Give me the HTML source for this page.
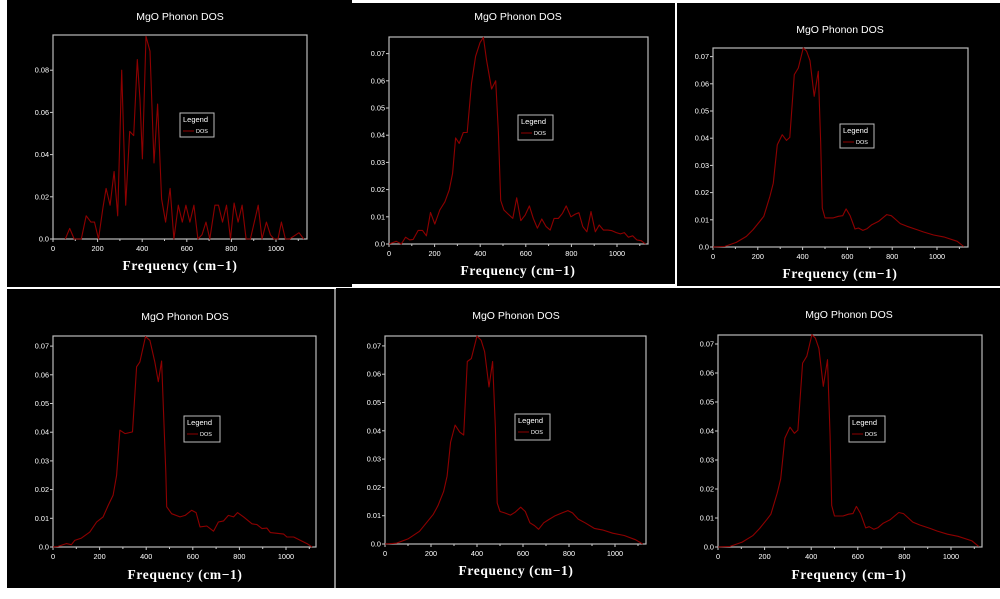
<!DOCTYPE html>
<html><head><meta charset="utf-8"><style>
html,body{margin:0;padding:0;background:#fff;width:1000px;height:599px;overflow:hidden}
svg{display:block}
</style></head><body>
<svg id="fig" width="1000" height="599" xmlns="http://www.w3.org/2000/svg">
<rect x="0" y="0" width="1000" height="599" fill="#fff"/>
<rect x="7" y="0" width="345" height="287" fill="#000"/>
<rect x="352" y="3" width="323" height="281" fill="#000"/>
<rect x="677" y="3" width="323" height="283" fill="#000"/>
<rect x="7" y="289" width="327" height="299" fill="#000"/>
<rect x="336" y="288" width="342" height="300" fill="#000"/>
<rect x="678" y="288" width="322" height="300" fill="#000"/>
<rect x="334" y="289" width="2" height="299" fill="#888"/>
</svg>
<script>
// ---- data (frequency cm-1, DOS) ----
const f1=[55,75,95,127,149,170,186,204,224,238,256,274,290,308,326,344,362,378,390,401,417,435,453,469,487,505,525,542,562,580,596,614,632,650,668,686,703,726,742,760,778,796,812,830,848,866,885,920,937,957,975,991,1009,1024,1042,1061,1103,1124];
const d1=[0,.005,0,0,.011,.008,.008,0,.015,.024,.016,.032,.011,.080,.016,.051,.049,.085,.066,.038,.096,.089,.036,.064,.019,.008,.024,0,.016,.008,.016,.008,.016,0,.002,.008,0,.016,.016,.008,.016,0,.017,.008,.016,0,0,.016,0,.008,.002,0,0,.008,0,0,.003,0];
const f2=[0,32,54,73,91,106,128,147,164,182,201,223,245,264,279,292,308,326,343,362,380,399,414,428,450,468,480,490,504,523,543,560,578,597,616,633,651,670,689,707,724,743,761,777,798,817,833,850,868,886,905,922,941,960,978,997,1015,1032,1050,1069,1087,1106,1125];
const d2=[0,.001,0,.0025,.0015,.0017,.005,.005,.003,.0116,.0073,.0125,.0155,.0198,.026,.039,.037,.041,.041,.059,.069,.074,.076,.0675,.057,.060,.041,.016,.0125,.011,.0094,.017,.0086,.0106,.014,.0094,.0058,.0092,.0064,.0051,.0094,.0094,.0113,.014,.010,.011,.0115,.0064,.0045,.0119,.0045,.007,.0051,.0051,.0049,.0042,.0037,.0042,.0025,.003,.0015,.0012,0];
const f3=[0,52,104,149,179,209,227,254,269,287,309,328,343,363,381,403,418,433,452,470,481,488,500,537,560,579,594,612,634,649,669,687,709,739,776,796,813,836,866,910,940,985,1030,1090,1119];
const d3=[0,.0002,.0017,.0039,.0064,.0094,.0113,.0186,.0235,.0376,.0413,.0392,.0403,.0634,.0658,.0732,.072,.0685,.0554,.0646,.0382,.0143,.0107,.0107,.0113,.0115,.014,.0115,.0066,.007,.0061,.0067,.0082,.0094,.0119,.0115,.0103,.0086,.0076,.0064,.0055,.0044,.0037,.0021,.0002];
const f4=[0,22,57,79,93,122,158,187,215,237,258,273,287,309,341,359,373,397,416,437,452,466,484,488,509,545,567,595,614,631,660,689,710,732,753,775,792,818,854,875,897,918,933,990,1004,1033,1062,1090,1112];
const d4=[0,.0002,.0012,.0008,.0023,.0031,.0052,.0087,.0105,.0145,.018,.025,.0407,.0395,.0401,.0628,.0645,.0733,.072,.0645,.0576,.0648,.0262,.014,.0116,.0105,.011,.0128,.012,.007,.0073,.0055,.0087,.0091,.011,.0105,.012,.0105,.0081,.0078,.0064,.0066,.005,.0045,.0035,.0035,.0023,.0012,0];
const f5=[0,50,100,150,180,210,230,255,270,285,305,325,342,358,375,400,418,433,452,468,480,488,500,520,545,565,590,610,630,650,668,690,710,740,770,795,815,840,870,910,945,990,1040,1090,1120];
const d5=[0,.0003,.0018,.0045,.0075,.0105,.0135,.0185,.024,.036,.042,.0395,.0385,.0645,.0655,.0735,.072,.068,.0555,.0645,.041,.0145,.0115,.011,.0102,.0112,.013,.0115,.0075,.0065,.0052,.0075,.0085,.01,.011,.0118,.011,.0088,.0075,.0055,.005,.0038,.003,.0015,0];
const xTicks=[0,200,400,600,800,1000];
const yTicksA=[0,.02,.04,.06,.08];
const yTickLabelsA=["0.0","0.02","0.04","0.06","0.08"];
const yTicksB=[0,.01,.02,.03,.04,.05,.06,.07];
const yTickLabelsB=["0.0","0.01","0.02","0.03","0.04","0.05","0.06","0.07"];

const NS="http://www.w3.org/2000/svg";
const svg=document.getElementById('fig');
function mk(tag,attrs,parent){const e=document.createElementNS(NS,tag);for(const k in attrs)e.setAttribute(k,attrs[k]);(parent||svg).appendChild(e);return e;}

const panels=[
 {id:1,bx0:53,bx1:307,by0:35,by1:239,x0:53,x1000:276,y0:239,yper:21.1,tc:180,ty:16,xly:270,lg:[180,113,34,24],f:f1,d:d1,yt:yTicksA,yl:yTickLabelsA},
 {id:2,bx0:389,bx1:648,by0:37,by1:244,x0:389,x1000:617,y0:244,yper:27.2,tc:518,ty:16,xly:275,lg:[518,115,35,25],f:f2,d:d2,yt:yTicksB,yl:yTickLabelsB},
 {id:3,bx0:713,bx1:968,by0:48,by1:247,x0:713,x1000:937,y0:247,yper:27.2,tc:840,ty:29,xly:278,lg:[840,124,34,24],f:f3,d:d3,yt:yTicksB,yl:yTickLabelsB},
 {id:4,bx0:53,bx1:316,by0:336,by1:547,x0:53,x1000:286,y0:547,yper:28.7,tc:185,ty:316,xly:579,lg:[184,416,36,26],f:f4,d:d4,yt:yTicksB,yl:yTickLabelsB},
 {id:5,bx0:385,bx1:646,by0:336,by1:544,x0:385,x1000:615,y0:544,yper:28.3,tc:516,ty:315,xly:575,lg:[515,414,35,26],f:f5,d:d5,yt:yTicksB,yl:yTickLabelsB},
 {id:6,bx0:718,bx1:982,by0:335,by1:547,x0:718,x1000:951,y0:547,yper:29,tc:849,ty:314,xly:579,lg:[849,416,36,26],f:f3,d:d3,yt:yTicksB,yl:yTickLabelsB}
];

panels.forEach(p=>{
 const g=mk('g',{});
 
 
 const xs=v=>p.x0+(p.x1000-p.x0)*v/1000;
 const ys=v=>p.y0-p.yper*v*100;
 const t=mk('text',{x:p.tc,y:p.ty+4,fill:'#fff','font-family':'Liberation Sans, sans-serif','font-size':'10.5','text-anchor':'middle'},g);
 t.textContent='MgO Phonon DOS';
 
 
 xTicks.forEach(v=>{
  const x=xs(v);
  mk('line',{x1:x,y1:p.by1,x2:x,y2:p.by1+3,stroke:'#ccc','stroke-width':1},g);
  mk('line',{x1:xs(v+100),y1:p.by1,x2:xs(v+100),y2:p.by1+2,stroke:'#ccc','stroke-width':1},g);
  const l=mk('text',{x:x,y:p.by1+12,fill:'#fff','font-family':'Liberation Sans, sans-serif','font-size':'7.3','text-anchor':'middle'},g);
  l.textContent=String(v);
  
  
 });
 p.yt.forEach((v,i)=>{
  const y=ys(v);
  mk('line',{x1:p.bx0-3,y1:y,x2:p.bx0,y2:y,stroke:'#ccc','stroke-width':1},g);
  const l=mk('text',{x:p.bx0-4,y:y+2.5,fill:'#fff','font-family':'Liberation Sans, sans-serif','font-size':'7.3','text-anchor':'end'},g);
  l.textContent=p.yl[i];
  
  
 });
 const fr=mk('rect',{x:p.bx0,y:p.by0,width:p.bx1-p.bx0,height:p.by1-p.by0,fill:'none',stroke:'#bbb','stroke-width':1.2},g);
 
 
 const pts=p.f.map((fv,i)=>xs(fv).toFixed(1)+','+ys(p.d[i]).toFixed(1)).join(' ');
 const ln=mk('polyline',{points:pts,fill:'none',stroke:'#8e0000','stroke-width':1.1,'stroke-linejoin':'round'},g);
 
 
 const xl=mk('text',{x:p.tc,y:p.xly,fill:'#fff','font-family':'Liberation Serif, serif','font-size':'13.5','font-weight':'bold','text-anchor':'middle','letter-spacing':'0.6'},g);
 xl.textContent='Frequency (cm\u22121)';
 
 
 const [lx,ly,lw,lh]=p.lg;
 const lg=mk('g',{},g);
 
 
 mk('rect',{x:lx,y:ly,width:lw,height:lh,fill:'#000',stroke:'#bbb','stroke-width':1},lg);
 const lt=mk('text',{x:lx+3,y:ly+9,fill:'#fff','font-family':'Liberation Sans, sans-serif','font-size':'7.5'},lg);
 lt.textContent='Legend';
 mk('line',{x1:lx+3,y1:ly+18,x2:lx+14,y2:ly+18,stroke:'#8e0000','stroke-width':1},lg);
 const le=mk('text',{x:lx+16,y:ly+20,fill:'#fff','font-family':'Liberation Sans, sans-serif','font-size':'5.5'},lg);
 le.textContent='DOS';
 
 
});
</script>
</body></html>
